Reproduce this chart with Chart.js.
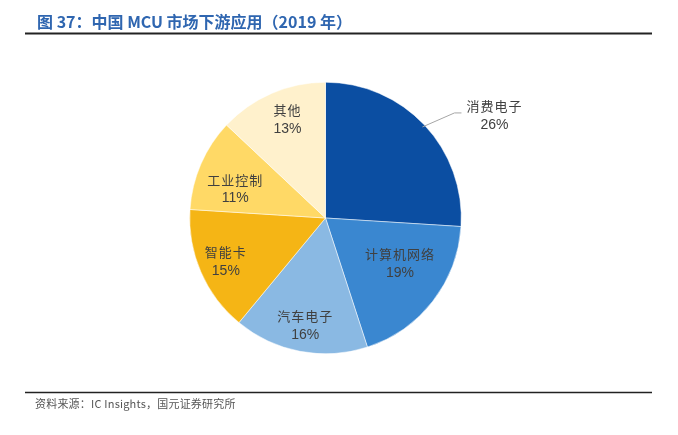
<!DOCTYPE html>
<html>
<head>
<meta charset="utf-8">
<script src="https://cdn.jsdelivr.net/npm/chart.js@4/dist/chart.umd.min.js"></script>
<style>
  html, body { margin: 0; padding: 0; background: #fff; }
  #wrap { position: relative; width: 678px; height: 435px; }
</style>
</head>
<body>
<div id="wrap"><canvas id="mcu-chart" width="678" height="435"></canvas></div>
<script>
// data
const categories = ['消费电子', '计算机网络', '汽车电子', '智能卡', '工业控制', '其他'];
const shares = [26, 19, 16, 15, 11, 13];
const sliceColors = ['#0B4EA2', '#3A87D0', '#8AB9E3', '#F5B515', '#FFD966', '#FFF1CC'];

const titleText = '图 37：中国 MCU 市场下游应用（2019 年）';
const sourceText = '资料来源：IC Insights，国元证券研究所';

// label placement: fraction of radius and a small angle nudge (deg); first one sits outside
const labelRadius = [1.25, 0.64, 0.8, 0.8, 0.7, 0.78];
const labelNudge = [0, -6.8, 0, 0, -5.4, 2.4];

const CJK = '"Noto Sans CJK SC", "Noto Sans", sans-serif';

// title, rules and source note
const frame = {
  id: 'frame',
  afterDraw(chart) {
    const ctx = chart.ctx;
    ctx.save();
    ctx.fillStyle = '#2F66B0';
    ctx.font = 'bold 16px ' + CJK;
    ctx.textBaseline = 'alphabetic';
    ctx.textAlign = 'left';
    ctx.fillText(titleText, 37, 28);

    ctx.strokeStyle = '#222';
    ctx.lineWidth = 2;
    ctx.beginPath();
    ctx.moveTo(25, 33.5);
    ctx.lineTo(652, 33.5);
    ctx.stroke();

    ctx.lineWidth = 1.5;
    ctx.beginPath();
    ctx.moveTo(25, 392.5);
    ctx.lineTo(652, 392.5);
    ctx.stroke();

    ctx.fillStyle = '#555';
    ctx.font = '11px ' + CJK;
    ctx.letterSpacing = '0.2px';
    ctx.textBaseline = 'middle';
    ctx.fillText(sourceText, 35, 404);
    ctx.restore();
  }
};

// slice labels
const sliceLabels = {
  id: 'sliceLabels',
  afterDatasetsDraw(chart) {
    const ctx = chart.ctx;
    const arcs = chart.getDatasetMeta(0).data;
    ctx.save();
    ctx.textAlign = 'center';
    ctx.textBaseline = 'middle';
    arcs.forEach((arc, i) => {
      const mid = (arc.startAngle + arc.endAngle) / 2 + labelNudge[i] * Math.PI / 180;
      const r = arc.outerRadius;
      let x = arc.x + Math.cos(mid) * r * labelRadius[i];
      let y = arc.y + Math.sin(mid) * r * labelRadius[i];
      if (labelRadius[i] > 1) {
        // leader line for the outside label
        const ex = arc.x + Math.cos(mid) * r * 0.98;
        const ey = arc.y + Math.sin(mid) * r * 0.98;
        x = ex + 72;
        y = ey - 12;
        ctx.strokeStyle = '#A6A6A6';
        ctx.lineWidth = 1;
        ctx.beginPath();
        ctx.moveTo(ex, ey);
        ctx.lineTo(ex + 32, ey - 14);
        ctx.lineTo(ex + 39, ey - 14);
        ctx.stroke();
      }
      ctx.fillStyle = '#404040';
      ctx.font = '13px ' + CJK;
      ctx.letterSpacing = '1px';
      ctx.fillText(categories[i], x, y - 9);
      ctx.font = '14px "Liberation Sans", Arial, sans-serif';
      ctx.letterSpacing = '0px';
      ctx.fillText(shares[i] + '%', x, y + 10);
    });
    ctx.restore();
  }
};

const mcuCanvas = document.getElementById('mcu-chart');

let mcuChart = new Chart(mcuCanvas, {
  type: 'pie',
  data: {
    labels: categories,
    datasets: [{
      data: shares,
      backgroundColor: sliceColors,
      borderColor: '#ffffff',
      borderWidth: 0.5
    }]
  },
  options: {
    responsive: false,
    animation: false,
    layout: {
      padding: { left: 189, right: 216, top: 82, bottom: 81 }
    },
    plugins: {
      legend: { display: false },
      tooltip: { enabled: false }
    }
  },
  plugins: [sliceLabels, frame]
});
</script>
</body>
</html>
